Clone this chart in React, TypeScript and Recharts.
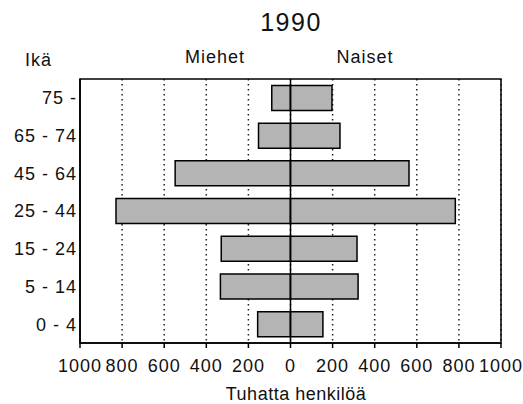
import { BarChart, Bar, XAxis, YAxis, CartesianGrid, ReferenceLine, ReferenceArea } from 'recharts';

const ageGroups = ['75 -', '65 - 74', '45 - 64', '25 - 44', '15 - 24', '5 - 14', '0 - 4'];
const men = [89, 152, 548, 829, 329, 333, 156];
const women = [197, 235, 563, 783, 316, 321, 154];
const xTicks = [-1000, -800, -600, -400, -200, 0, 200, 400, 600, 800, 1000];

const data = ageGroups.map((age, i) => ({
  age,
  men: -men[i],
  women: women[i],
}));

const font = 'Liberation Sans, Arial, sans-serif';
const tickStyle = { fill: '#111', fontSize: 18, fontFamily: font, letterSpacing: 1 };

// x tick labels sit a bit lower than recharts' default placement
const XTick = ({ x, y, payload }: any) => (
  <text x={x} y={y + 22} textAnchor="middle" fill="#111" fontSize={18} fontFamily={font} letterSpacing={1}>
    {Math.abs(payload.value)}
  </text>
);

export default function App() {
  return (
    <div style={{ position: 'absolute', left: 0, top: 0, width: 523, height: 404, background: '#fff', fontFamily: font, color: '#111' }}>
      <div style={{ position: 'absolute', left: 191, width: 200, top: 7, textAlign: 'center', fontSize: 25, letterSpacing: 1.5, lineHeight: '30px' }}>1990</div>
      <div style={{ position: 'absolute', left: 25, top: 49, fontSize: 18, letterSpacing: 1, lineHeight: '22px' }}>Ikä</div>
      <div style={{ position: 'absolute', left: 155, width: 120, top: 46, textAlign: 'center', fontSize: 18, letterSpacing: 1, lineHeight: '22px' }}>Miehet</div>
      <div style={{ position: 'absolute', left: 305, width: 120, top: 46, textAlign: 'center', fontSize: 18, letterSpacing: 1, lineHeight: '22px' }}>Naiset</div>
      <div style={{ position: 'absolute', left: 191, width: 210, top: 385, textAlign: 'center', fontSize: 18, letterSpacing: 0.5, lineHeight: '18px' }}>Tuhatta henkilöä</div>
      <BarChart
        width={523}
        height={404}
        data={data}
        layout="vertical"
        stackOffset="sign"
        barCategoryGap="17%"
        margin={{ top: 79, right: 22, bottom: 31, left: 0 }}
      >
        <CartesianGrid horizontal={false} stroke="#222" strokeWidth={1.5} strokeDasharray="1.5 3.5" />
        <XAxis
          type="number"
          domain={[-1000, 1000]}
          ticks={xTicks}
          interval={0}
          height={30}
          tick={<XTick />}
          tickLine={{ stroke: '#000', strokeWidth: 1.5 }}
          tickSize={5}
          axisLine={{ stroke: '#000', strokeWidth: 1.5 }}
        />
        <YAxis
          type="category"
          dataKey="age"
          width={80}
          tick={tickStyle}
          tickLine={false}
          tickSize={3}
          tickMargin={0}
          axisLine={{ stroke: '#000', strokeWidth: 1.5 }}
        />
        <ReferenceArea x1={-1000} x2={1000} fill="none" stroke="#000" strokeWidth={1.5} ifOverflow="visible" />
        <Bar dataKey="men" stackId="a" fill="#b4b4b4" stroke="#000" strokeWidth={1.5} isAnimationActive={false} />
        <Bar dataKey="women" stackId="a" fill="#b4b4b4" stroke="#000" strokeWidth={1.5} isAnimationActive={false} />
        <ReferenceLine x={0} stroke="#000" strokeWidth={1.5} />
      </BarChart>
    </div>
  );
}
